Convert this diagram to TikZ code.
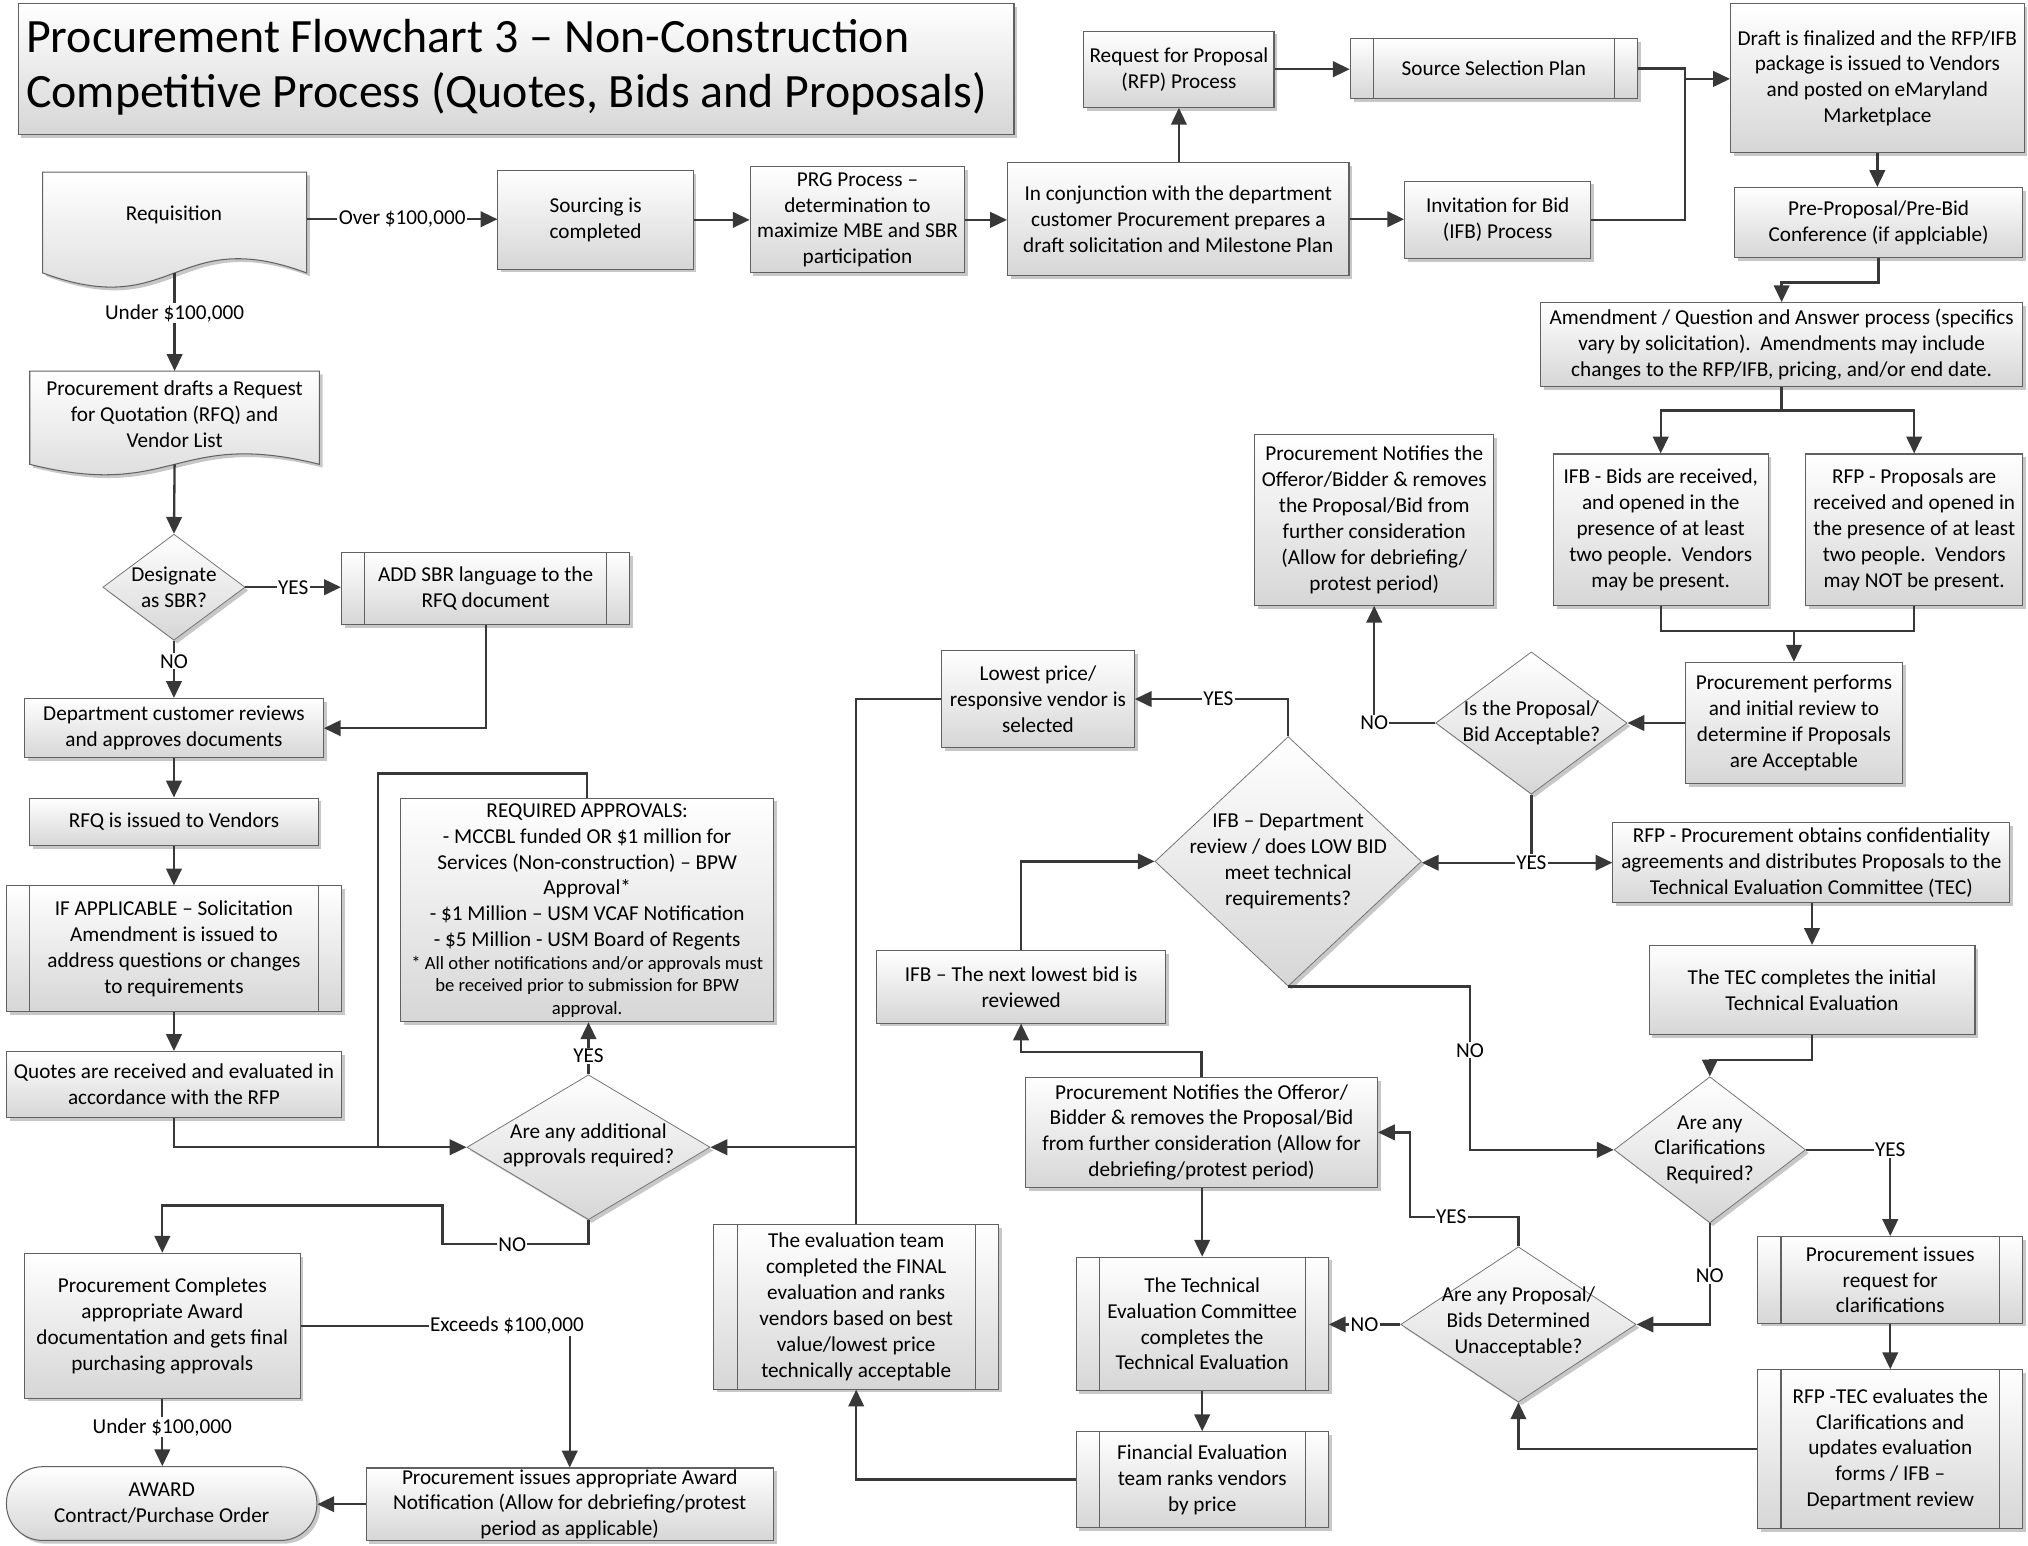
\documentclass[tikz,border=0pt]{standalone}
\usepackage{fontspec}
\setmainfont{Carlito}
\usetikzlibrary{arrows.meta,shapes.geometric,shadows,fit}
\begin{document}
\begin{tikzpicture}[x=1pt,y=-1pt,
 every node/.style={font=\fontsize{16.4}{20}\selectfont},
 basest/.style={draw=black!62, line width=0.8pt, top color=white, bottom color=black!16,
   drop shadow={shadow xshift=2.5pt, shadow yshift=-2.5pt, fill=black!22, opacity=1}},
 rb/.style args={#1,#2,#3,#4}{minimum width={#3-#1}, minimum height={#4-#2}, at={({(#1+#3)/2},{(#2+#4)/2})}},
 bx/.style={basest, rectangle, inner sep=0pt, align=center},
 pbox/.style={bx, path picture={\draw[draw=black!62, line width=0.8pt]
   ([xshift=18pt]path picture bounding box.north west) -- ([xshift=18pt]path picture bounding box.south west)
   ([xshift=-18pt]path picture bounding box.north east) -- ([xshift=-18pt]path picture bounding box.south east);}},
 dia/.style 2 args={basest, diamond, inner sep=0pt, minimum width=#1pt, minimum height=#2pt, draw=black!55, line width=0.6pt},
 txt/.style={align=center, inner sep=0pt},
 lbl/.style={fill=white, inner sep=1pt},
 ln/.style={draw=black!78, line width=1.8pt},
 arr/.style={ln, -{Triangle[length=13pt,width=12pt]}},
]
\useasboundingbox (0,0) rectangle (1568,1195);

% title
\node[bx, rb={14,3,784,104}] (titlebox) {};
\node[anchor=west, align=left, inner sep=0pt, font=\fontsize{37}{43}\selectfont] (title) at (20,52)
 {Procurement Flowchart 3 – Non-Construction\\Competitive Process (Quotes, Bids and Proposals)};

% document shapes
\path[basest] (33,133) -- (237,133) -- (237,211) .. controls (135,173) and (135,249) .. (33,211) -- cycle;
\node[inner sep=0pt, rb={33,133,237,206}] (req) {};
\node[txt] (reqT) at (134.5,166) {Requisition};
\coordinate (reqB) at (135,211);

\path[basest] (23,287) -- (247,287) -- (247,359) .. controls (135,331) and (135,387) .. (23,359) -- cycle;
\node[inner sep=0pt, rb={23,287,247,352}] (rfq) {};
\node[txt] (rfqT) at (135,320) {Procurement drafts a Request\\for Quotation (RFQ) and\\Vendor List};
\coordinate (rfqB) at (135,359);

% boxes
\node[bx, rb={385,132,536,208}] (src) {Sourcing is\\completed};
\node[bx, rb={580,129,746,211}] (prg) {PRG Process –\\determination to\\maximize MBE and SBR\\participation};
\node[bx, rb={779,126,1043,213}] (conj) {In conjunction with the department\\customer Procurement prepares a\\draft solicitation and Milestone Plan};
\node[bx, rb={838,24,985,83}] (rfpp) {Request for Proposal\\(RFP) Process};
\node[pbox, rb={1044,30,1266,76}] (ssp) {Source Selection Plan};
\node[bx, rb={1086,140,1230,200}] (ifbp) {Invitation for Bid\\(IFB) Process};
\node[bx, rb={1338,3,1565,118}] (draft) {Draft is finalized and the RFP/IFB\\package is issued to Vendors\\and posted on eMaryland\\Marketplace};
\node[bx, rb={1341,145,1564,199}] (pre) {Pre-Proposal/Pre-Bid\\Conference (if applciable)};
\node[bx, rb={1191,234,1564,299}] (amd) {Amendment / Question and Answer process (specifics\\vary by solicitation).\ \ Amendments may include\\changes to the RFP/IFB, pricing, and/or end date.};
\node[bx, rb={1201,351,1367,468}] (ifbr) {IFB - Bids are received,\\and opened in the\\presence of at least\\two people.\ \ Vendors\\may be present.};
\node[bx, rb={1396,351,1564,468}] (rfpr) {RFP - Proposals are\\received and opened in\\the presence of at least\\two people.\ \ Vendors\\may NOT be present.};
\node[bx, rb={1303,512,1471,606}] (perf) {Procurement performs\\and initial review to\\determine if Proposals\\are Acceptable};
\node[dia={148}{110}] (acc) at (1184,559) {};
\node[txt] (accT) at (acc) {Is the Proposal/\\Bid Acceptable?};
\node[bx, rb={970,336,1155,468}] (notif1) {Procurement Notifies the\\Offeror/Bidder \& removes\\the Proposal/Bid from\\further consideration\\(Allow for debriefing/\\protest period)};
\node[bx, rb={1247,636,1554,698}] (rfpo) {RFP - Procurement obtains confidentiality\\agreements and distributes Proposals to the\\Technical Evaluation Committee (TEC)};
\node[bx, rb={1275,731,1527,800}] (teci) {The TEC completes the initial\\Technical Evaluation};
\node[dia={148}{113}] (clar) at (1322,889) {};
\node[txt] (clarT) at (clar) {Are any\\Clarifications\\Required?};
\node[pbox, rb={1359,956,1564,1023}] (preq) {Procurement issues\\request for\\clarifications};
\node[pbox, rb={1359,1059,1564,1182}] (rfptec) {RFP -TEC evaluates the\\Clarifications and\\updates evaluation\\forms / IFB –\\Department review};
\node[dia={182}{120}] (unacc) at (1174,1024) {};
\node[txt] (unaccT) at (1174,1022) {Are any Proposal/\\Bids Determined\\Unacceptable?};
\node[pbox, rb={832,972,1027,1075}] (tecc) {The Technical\\Evaluation Committee\\completes the\\Technical Evaluation};
\node[pbox, rb={832,1107,1027,1181}] (fin) {Financial Evaluation\\team ranks vendors\\by price};
\node[bx, rb={793,833,1065,918}] (notif2) {Procurement Notifies the Offeror/\\Bidder \& removes the Proposal/Bid\\from further consideration (Allow for\\debriefing/protest period)};
\node[dia={206}{193}] (ifbd) at (996,666) {};
\node[txt] (ifbdT) at (ifbd) {IFB – Department\\review / does LOW BID\\meet technical\\requirements?};
\node[bx, rb={728,503,877,578}] (low) {Lowest price/\\responsive vendor is\\selected};
\node[bx, rb={678,735,901,791}] (next) {IFB – The next lowest bid is\\reviewed};
\node[pbox, rb={552,947,772,1074}] (evt) {The evaluation team\\completed the FINAL\\evaluation and ranks\\vendors based on best\\value/lowest price\\technically acceptable};
\node[dia={188}{112}] (addl) at (455,887) {};
\node[txt] (addlT) at (455,885.5) {Are any additional\\approvals required?};
\node[bx, rb={310,617,598,790}] (reqa) {};
\node[txt] (reqaT1) at (454,678) {REQUIRED APPROVALS:\\- MCCBL funded OR \$1 million for\\Services (Non-construction) – BPW\\Approval*\\- \$1 Million – USM VCAF Notification\\- \$5 Million - USM Board of Regents};
\node[txt, font=\fontsize{14.4}{17.5}\selectfont] (reqaT2) at (454,763) {* All other notifications and/or approvals must\\be received prior to submission for BPW\\approval.};
\node[dia={110}{82}] (sbr) at (134.5,454) {};
\node[txt] (sbrT) at (sbr) {Designate\\as SBR?};
\node[pbox, rb={264,427,487,483}] (addsbr) {ADD SBR language to the\\RFQ document};
\node[bx, rb={19,540,250,586}] (dept) {Department customer reviews\\and approves documents};
\node[bx, rb={23,617,246,654}] (rfqi) {RFQ is issued to Vendors};
\node[pbox, rb={5,685,264,782}] (ifapp) {IF APPLICABLE – Solicitation\\Amendment is issued to\\address questions or changes\\to requirements};
\node[bx, rb={5,813,264,864}] (quotes) {Quotes are received and evaluated in\\accordance with the RFP};
\node[bx, rb={19,969,232,1081}] (pcomp) {Procurement Completes\\appropriate Award\\documentation and gets final\\purchasing approvals};
\node[bx, rounded corners=28pt, rb={5,1134,245,1191}] (award) {AWARD\\Contract/Purchase Order};
\node[bx, rb={283,1135,598,1191}] (anot) {Procurement issues appropriate Award\\Notification (Allow for debriefing/protest\\period as applicable)};

% connectors
\draw[arr] (req.east) -- node[lbl]{Over \$100,000} (req.east -| src.west);
\draw[arr] (src.east) -- (src.east -| prg.west);
\draw[arr] (prg.east) -- (prg.east -| conj.west);
\draw[arr] (conj.north -| rfpp.south) -- (rfpp.south);
\draw[arr] (rfpp.east) -- (rfpp.east -| ssp.west);
\draw[arr] (conj.east) -- (conj.east -| ifbp.west);
\coordinate (jn) at (1303,61);
\draw[ln] (ssp.east) -| (jn |- ifbp.east) -- (ifbp.east);
\draw[arr] (jn) -- (jn -| draft.west);
\draw[arr] (draft.south) -- (draft.south |- pre.north);
\draw[arr] (pre.south) -- ++(0,19) -| (amd.north);
\draw[arr] (amd.south) -- ++(0,18) -| (ifbr.north);
\draw[arr] (amd.south) -- ++(0,18) -| (rfpr.north);
\coordinate (mj) at (1387,488);
\draw[ln] (ifbr.south) |- (mj) -| (rfpr.south);
\draw[arr] (mj) -- (mj |- perf.north);
\draw[arr] (perf.west) -- (perf.west -| acc.east);
\draw[arr] (acc.west) -| node[lbl,pos=0.5]{NO} (notif1.south);
\coordinate (yj) at (1184,667);
\draw[ln] (acc.south) -- (yj);
\draw[arr] (yj) -- (yj -| ifbd.east);
\draw[arr] (yj) -- (yj -| rfpo.west);
\node[lbl] (yjL) at (yj) {YES};
\draw[arr] (teci.north |- rfpo.south) -- (teci.north);
\draw[arr] (teci.south) -- ++(0,19) -| (clar.north);
\coordinate (nj) at (1136.5,889);
\draw[arr] (ifbd.south) -| (nj) -- (clar.west);
\node[lbl] (nL1) at (1136.5,812) {NO};
\draw[arr] (clar.east) -| node[lbl,pos=0.5]{YES} (preq.north);
\draw[arr] (preq.south) -- (preq.south |- rfptec.north);
\draw[arr] (clar.south) |- (unacc.east);
\node[lbl] (nL2) at (1322,986) {NO};
\draw[arr] (rfptec.west) -| (unacc.south);
\draw[arr] (unacc.west) -- node[lbl]{NO} (unacc.west -| tecc.east);
\coordinate (yc) at (1090,941);
\draw[arr] (unacc.north) |- (yc) |- (notif2.east);
\node[lbl] (yL2) at (1122,941) {YES};
\draw[arr] (tecc.north |- notif2.south) -- (tecc.north);
\draw[arr] (notif2.north) -- ++(0,-19) -| (next.south);
\draw[arr] (next.north) |- (ifbd.west);
\draw[arr] (ifbd.north) |- (low.east);
\node[lbl] (yL3) at (942,540.5) {YES};
\coordinate (ej) at (662,887);
\draw[ln] (low.west) -| (ej);
\draw[ln] (evt.north) -- (ej);
\draw[arr] (ej) -- (addl.east);
\draw[arr] (tecc.south) -- (tecc.south |- fin.north);
\draw[arr] (fin.west) -| (evt.south);
\coordinate (qj) at (292.5,887);
\draw[arr] (quotes.south) |- (addl.west);
\draw[ln] (reqa.north) -- ++(0,-18.5) -| (qj);
\draw[arr] (addl.north) -- node[lbl,pos=0.35]{YES} (addl.north |- reqa.south);
\coordinate (nc1) at (342,962);
\coordinate (nc2) at (342,932);
\draw[arr] (addl.south) |- (nc1) -- (nc2) -| (pcomp.north);
\node[lbl] (nL3) at (396,962) {NO};
\draw[arr] (pcomp.east) -| (anot.north);
\node[lbl] (exL) at (392,1025) {Exceeds \$100,000};
\draw[arr] (pcomp.south) -- node[lbl,pos=0.42]{Under \$100,000} (pcomp.south |- award.north);
\draw[arr] (anot.west) -- (anot.west -| award.east);
\draw[arr] (reqB) -- node[lbl,pos=0.41]{Under \$100,000} (rfq.north);
\draw[arr] (rfqB) -- (sbr.north);
\draw[arr] (sbr.east) -- node[lbl]{YES} (sbr.east -| addsbr.west);
\draw[arr] (sbr.south) -- node[lbl,pos=0.36]{NO} (sbr.south |- dept.north);
\draw[arr] (addsbr.south) |- (dept.east);
\draw[arr] (dept.south) -- (dept.south |- rfqi.north);
\draw[arr] (rfqi.south) -- (rfqi.south |- ifapp.north);
\draw[arr] (ifapp.south) -- (ifapp.south |- quotes.north);
\end{tikzpicture}
\end{document}
